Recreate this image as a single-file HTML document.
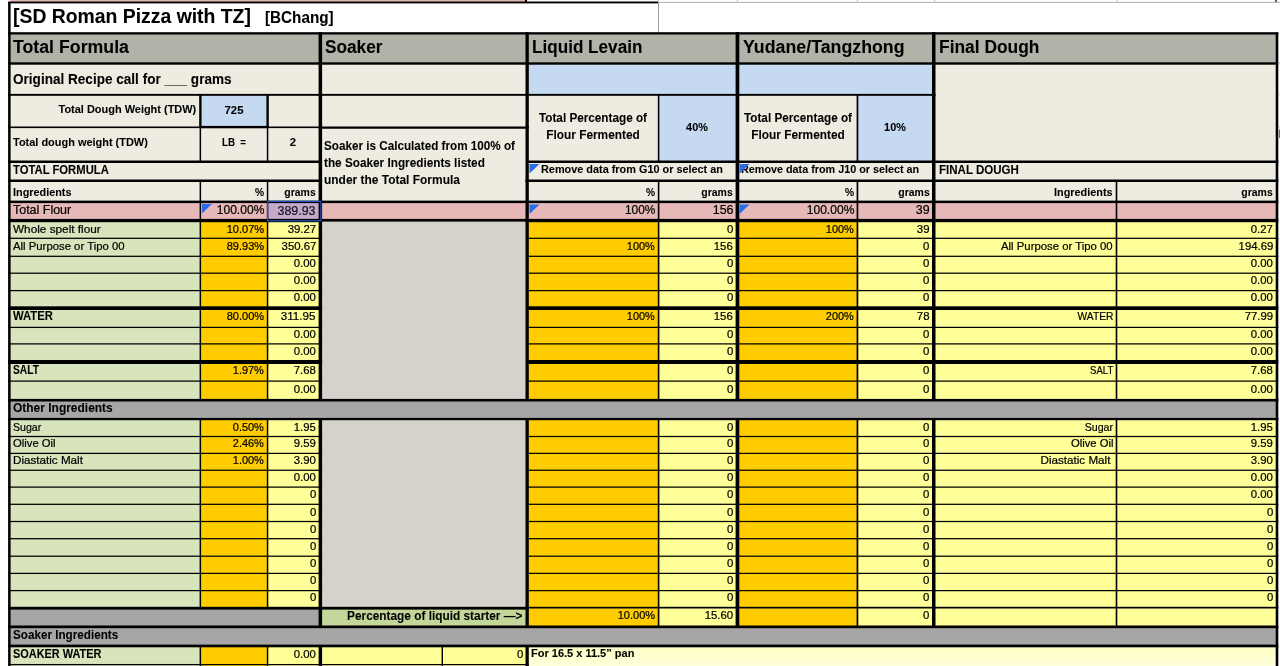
<!DOCTYPE html>
<html lang="en"><head><meta charset="utf-8"><title>SD Roman Pizza with TZ</title><style>
html,body{margin:0;padding:0;background:#fff;}
body{width:1280px;height:666px;overflow:hidden;position:relative;font-family:"Liberation Sans",sans-serif;color:#000;}
.r{position:absolute;display:block;}
.tx{position:absolute;left:0;top:0;width:1280px;height:666px;will-change:transform;}
.t{position:absolute;white-space:pre;line-height:1;display:block;-webkit-text-stroke:0.22px #000;}
</style></head>
<body>
<svg class="r" style="left:0;top:0" width="1280" height="666" viewBox="0 0 1280 666"><defs><linearGradient id="lg" x1="0" y1="0" x2="0" y2="1"><stop offset="0" stop-color="#FFFFC6"/><stop offset="1" stop-color="#FFFFDA"/></linearGradient></defs>
<rect x="10.00" y="0.00" width="516.00" height="3.00" fill="#E6B8B7"/>
<rect x="10.00" y="3.00" width="648.00" height="30.00" fill="#fff"/>
<rect x="10.00" y="33.35" width="1267.00" height="30.15" fill="#B2B2A8"/>
<rect x="10.00" y="63.50" width="1267.00" height="138.35" fill="#EEECE1"/>
<rect x="200.35" y="94.85" width="67.20" height="32.45" fill="#C5D9F1"/>
<rect x="527.15" y="63.50" width="406.60" height="31.35" fill="#C5D9F1"/>
<rect x="658.60" y="94.85" width="78.85" height="66.90" fill="#C5D9F1"/>
<rect x="857.45" y="94.85" width="76.30" height="66.90" fill="#C5D9F1"/>
<rect x="10.00" y="201.85" width="1267.00" height="18.70" fill="#E6B8B7"/>
<rect x="10.00" y="220.55" width="190.35" height="179.65" fill="#D8E4BC"/>
<rect x="200.35" y="220.55" width="67.20" height="179.65" fill="#FFCC00"/>
<rect x="267.55" y="220.55" width="52.80" height="179.65" fill="#FFFF99"/>
<rect x="320.35" y="220.55" width="206.80" height="179.65" fill="#D4D2CA"/>
<rect x="527.15" y="220.55" width="131.45" height="179.65" fill="#FFCC00"/>
<rect x="658.60" y="220.55" width="78.85" height="179.65" fill="#FFFF99"/>
<rect x="737.45" y="220.55" width="120.00" height="179.65" fill="#FFCC00"/>
<rect x="857.45" y="220.55" width="76.30" height="179.65" fill="#FFFF99"/>
<rect x="933.75" y="220.55" width="343.25" height="179.65" fill="#FFFF99"/>
<rect x="10.00" y="400.20" width="1267.00" height="18.85" fill="#A6A6A6"/>
<rect x="10.00" y="419.05" width="190.35" height="189.15" fill="#D8E4BC"/>
<rect x="200.35" y="419.05" width="67.20" height="189.15" fill="#FFCC00"/>
<rect x="267.55" y="419.05" width="52.80" height="189.15" fill="#FFFF99"/>
<rect x="320.35" y="419.05" width="206.80" height="189.15" fill="#D4D2CA"/>
<rect x="527.15" y="419.05" width="131.45" height="189.15" fill="#FFCC00"/>
<rect x="658.60" y="419.05" width="78.85" height="189.15" fill="#FFFF99"/>
<rect x="737.45" y="419.05" width="120.00" height="189.15" fill="#FFCC00"/>
<rect x="857.45" y="419.05" width="76.30" height="189.15" fill="#FFFF99"/>
<rect x="933.75" y="419.05" width="343.25" height="189.15" fill="#FFFF99"/>
<rect x="10.00" y="608.20" width="310.35" height="18.65" fill="#A6A6A6"/>
<rect x="320.35" y="608.20" width="206.80" height="18.65" fill="#C4D79B"/>
<rect x="527.15" y="608.20" width="131.45" height="18.65" fill="#FFCC00"/>
<rect x="658.60" y="608.20" width="78.85" height="18.65" fill="#FFFF99"/>
<rect x="737.45" y="608.20" width="120.00" height="18.65" fill="#FFCC00"/>
<rect x="857.45" y="608.20" width="76.30" height="18.65" fill="#FFFF99"/>
<rect x="933.75" y="608.20" width="343.25" height="18.65" fill="#FFFF99"/>
<rect x="10.00" y="626.85" width="1267.00" height="19.10" fill="#A6A6A6"/>
<rect x="10.00" y="645.95" width="190.35" height="20.05" fill="#D8E4BC"/>
<rect x="200.35" y="645.95" width="67.20" height="20.05" fill="#FFCC00"/>
<rect x="267.55" y="645.95" width="52.80" height="20.05" fill="#FFFF99"/>
<rect x="320.35" y="645.95" width="206.80" height="20.05" fill="#FFFF99"/>
<rect x="527.15" y="645.95" width="749.85" height="20.05" fill="url(#lg)"/>
<rect x="267.00" y="201.00" width="54.50" height="20.00" fill="#C4AAC8"/>
<rect x="8.10" y="1.50" width="650.40" height="1.90" fill="#000"/>
<rect x="658.50" y="1.90" width="621.50" height="1.00" fill="#B0B0B0"/>
<rect x="658.00" y="0.00" width="1.00" height="2.50" fill="#C8C8C8"/>
<rect x="737.00" y="0.00" width="1.00" height="2.50" fill="#C8C8C8"/>
<rect x="857.00" y="0.00" width="1.00" height="2.50" fill="#C8C8C8"/>
<rect x="934.00" y="0.00" width="1.00" height="2.50" fill="#C8C8C8"/>
<rect x="1116.50" y="0.00" width="1.00" height="2.50" fill="#C8C8C8"/>
<rect x="1276.50" y="0.00" width="1.00" height="2.50" fill="#C8C8C8"/>
<rect x="658.00" y="3.00" width="1.00" height="29.50" fill="#9A9A9A"/>
<rect x="525.00" y="0.00" width="2.00" height="3.00" fill="#000"/>
<rect x="8.10" y="32.20" width="1270.20" height="2.30" fill="#000"/>
<rect x="8.10" y="62.30" width="1270.20" height="2.40" fill="#000"/>
<rect x="8.10" y="200.60" width="1270.20" height="2.50" fill="#000"/>
<rect x="8.10" y="398.90" width="1270.20" height="2.60" fill="#000"/>
<rect x="8.10" y="417.90" width="1270.20" height="2.30" fill="#000"/>
<rect x="8.10" y="625.50" width="1270.20" height="2.70" fill="#000"/>
<rect x="8.10" y="644.60" width="1270.20" height="2.70" fill="#000"/>
<rect x="8.10" y="218.90" width="314.00" height="3.30" fill="#000"/>
<rect x="525.50" y="218.90" width="752.80" height="3.30" fill="#000"/>
<rect x="318.60" y="218.90" width="210.20" height="2.70" fill="#000"/>
<rect x="8.10" y="160.50" width="314.00" height="2.50" fill="#000"/>
<rect x="526.10" y="160.50" width="752.20" height="2.50" fill="#000"/>
<rect x="8.10" y="306.30" width="314.00" height="3.70" fill="#000"/>
<rect x="526.10" y="306.30" width="752.20" height="3.70" fill="#000"/>
<rect x="8.10" y="360.00" width="314.00" height="4.00" fill="#000"/>
<rect x="526.10" y="360.00" width="752.20" height="4.00" fill="#000"/>
<rect x="8.10" y="93.90" width="314.00" height="1.90" fill="#000"/>
<rect x="318.60" y="93.90" width="616.90" height="1.90" fill="#000"/>
<rect x="8.10" y="126.50" width="314.00" height="1.60" fill="#000"/>
<rect x="318.60" y="126.50" width="210.20" height="2.25" fill="#000"/>
<rect x="8.10" y="179.50" width="314.00" height="2.50" fill="#000"/>
<rect x="525.50" y="179.50" width="752.80" height="2.50" fill="#000"/>
<rect x="8.10" y="237.68" width="314.00" height="1.25" fill="#000"/>
<rect x="526.10" y="237.68" width="752.20" height="1.25" fill="#000"/>
<rect x="8.10" y="255.68" width="314.00" height="1.25" fill="#000"/>
<rect x="526.10" y="255.68" width="752.20" height="1.25" fill="#000"/>
<rect x="8.10" y="272.57" width="314.00" height="1.25" fill="#000"/>
<rect x="526.10" y="272.57" width="752.20" height="1.25" fill="#000"/>
<rect x="8.10" y="289.98" width="314.00" height="1.25" fill="#000"/>
<rect x="526.10" y="289.98" width="752.20" height="1.25" fill="#000"/>
<rect x="8.10" y="326.77" width="314.00" height="1.25" fill="#000"/>
<rect x="526.10" y="326.77" width="752.20" height="1.25" fill="#000"/>
<rect x="8.10" y="343.27" width="314.00" height="1.25" fill="#000"/>
<rect x="526.10" y="343.27" width="752.20" height="1.25" fill="#000"/>
<rect x="8.10" y="380.48" width="314.00" height="1.25" fill="#000"/>
<rect x="526.10" y="380.48" width="752.20" height="1.25" fill="#000"/>
<rect x="8.10" y="435.88" width="314.00" height="1.25" fill="#000"/>
<rect x="526.10" y="435.88" width="752.20" height="1.25" fill="#000"/>
<rect x="8.10" y="452.77" width="314.00" height="1.25" fill="#000"/>
<rect x="526.10" y="452.77" width="752.20" height="1.25" fill="#000"/>
<rect x="8.10" y="469.62" width="314.00" height="1.25" fill="#000"/>
<rect x="526.10" y="469.62" width="752.20" height="1.25" fill="#000"/>
<rect x="8.10" y="486.48" width="314.00" height="1.25" fill="#000"/>
<rect x="526.10" y="486.48" width="752.20" height="1.25" fill="#000"/>
<rect x="8.10" y="503.68" width="314.00" height="1.25" fill="#000"/>
<rect x="526.10" y="503.68" width="752.20" height="1.25" fill="#000"/>
<rect x="8.10" y="520.88" width="314.00" height="1.25" fill="#000"/>
<rect x="526.10" y="520.88" width="752.20" height="1.25" fill="#000"/>
<rect x="8.10" y="538.08" width="314.00" height="1.25" fill="#000"/>
<rect x="526.10" y="538.08" width="752.20" height="1.25" fill="#000"/>
<rect x="8.10" y="555.58" width="314.00" height="1.25" fill="#000"/>
<rect x="526.10" y="555.58" width="752.20" height="1.25" fill="#000"/>
<rect x="8.10" y="572.77" width="314.00" height="1.25" fill="#000"/>
<rect x="526.10" y="572.77" width="752.20" height="1.25" fill="#000"/>
<rect x="8.10" y="589.98" width="314.00" height="1.25" fill="#000"/>
<rect x="526.10" y="589.98" width="752.20" height="1.25" fill="#000"/>
<rect x="8.10" y="606.80" width="520.70" height="2.80" fill="#000"/>
<rect x="525.50" y="606.80" width="752.80" height="1.70" fill="#000"/>
<rect x="8.10" y="663.98" width="520.70" height="1.25" fill="#000"/>
<rect x="8.10" y="2.00" width="2.50" height="664.00" fill="#000"/>
<rect x="1275.70" y="32.50" width="2.60" height="633.50" fill="#000"/>
<rect x="318.60" y="32.00" width="3.50" height="368.00" fill="#000"/>
<rect x="318.60" y="419.00" width="3.50" height="207.50" fill="#000"/>
<rect x="525.50" y="32.00" width="3.30" height="368.00" fill="#000"/>
<rect x="525.50" y="419.00" width="3.30" height="207.50" fill="#000"/>
<rect x="735.60" y="32.00" width="3.70" height="368.00" fill="#000"/>
<rect x="735.60" y="419.00" width="3.70" height="207.50" fill="#000"/>
<rect x="932.00" y="32.00" width="3.50" height="368.00" fill="#000"/>
<rect x="932.00" y="419.00" width="3.50" height="207.50" fill="#000"/>
<rect x="318.60" y="646.00" width="3.50" height="20.00" fill="#000"/>
<rect x="525.50" y="646.00" width="3.30" height="20.00" fill="#000"/>
<rect x="199.60" y="94.85" width="1.50" height="66.90" fill="#000"/>
<rect x="266.80" y="94.85" width="1.50" height="66.90" fill="#000"/>
<rect x="199.60" y="180.75" width="1.50" height="219.45" fill="#000"/>
<rect x="266.80" y="180.75" width="1.50" height="219.45" fill="#000"/>
<rect x="199.60" y="419.05" width="1.50" height="189.15" fill="#000"/>
<rect x="266.80" y="419.05" width="1.50" height="189.15" fill="#000"/>
<rect x="199.60" y="645.95" width="1.50" height="20.05" fill="#000"/>
<rect x="266.80" y="645.95" width="1.50" height="20.05" fill="#000"/>
<rect x="441.60" y="645.95" width="1.40" height="20.05" fill="#000"/>
<rect x="657.80" y="94.85" width="1.60" height="66.90" fill="#000"/>
<rect x="657.80" y="180.75" width="1.60" height="219.45" fill="#000"/>
<rect x="657.80" y="419.05" width="1.60" height="207.80" fill="#000"/>
<rect x="856.60" y="94.85" width="1.70" height="66.90" fill="#000"/>
<rect x="856.60" y="180.75" width="1.70" height="219.45" fill="#000"/>
<rect x="856.60" y="419.05" width="1.70" height="207.80" fill="#000"/>
<rect x="1115.70" y="180.75" width="1.60" height="219.45" fill="#000"/>
<rect x="1115.70" y="419.05" width="1.60" height="207.80" fill="#000"/>
<rect x="199.30" y="94.50" width="2.20" height="33.50" fill="#000"/>
<rect x="266.50" y="94.50" width="2.20" height="33.50" fill="#000"/>
<rect x="199.30" y="125.90" width="69.40" height="2.30" fill="#000"/>
<rect x="1278.30" y="63.00" width="1.70" height="1.00" fill="#C8C8C8"/>
<rect x="1278.30" y="94.50" width="1.70" height="1.00" fill="#C8C8C8"/>
<rect x="1278.30" y="126.90" width="1.70" height="1.00" fill="#C8C8C8"/>
<rect x="1279.00" y="129.50" width="1.00" height="8.50" fill="#3B6FD0"/>
<rect x="1275.30" y="0.00" width="1.30" height="2.00" fill="#222"/>
<rect x="267.6" y="201.4" width="53.3" height="19.4" fill="none" stroke="#2456C8" stroke-width="1.15"/>
</svg>
<div class="tx">
<span class="t" style="top:5.91px;font-size:20.43px;font-weight:700;-webkit-text-stroke-width:0.08px;left:13.00px;transform-origin:0 50%;transform:scaleX(0.9488);">[SD Roman Pizza with TZ]</span>
<span class="t" style="top:9.16px;font-size:16.34px;font-weight:700;-webkit-text-stroke-width:0.08px;left:265.30px;transform-origin:0 50%;transform:scaleX(0.9336);">[BChang]</span>
<span class="t" style="top:37.94px;font-size:18.39px;font-weight:700;-webkit-text-stroke-width:0.08px;left:13.00px;transform-origin:0 50%;transform:scaleX(0.9651);">Total Formula</span>
<span class="t" style="top:37.94px;font-size:18.39px;font-weight:700;-webkit-text-stroke-width:0.08px;left:324.50px;transform-origin:0 50%;transform:scaleX(0.9379);">Soaker</span>
<span class="t" style="top:37.94px;font-size:18.39px;font-weight:700;-webkit-text-stroke-width:0.08px;left:532.00px;transform-origin:0 50%;transform:scaleX(0.9320);">Liquid Levain</span>
<span class="t" style="top:37.94px;font-size:18.39px;font-weight:700;-webkit-text-stroke-width:0.08px;left:742.50px;transform-origin:0 50%;transform:scaleX(0.9671);">Yudane/Tangzhong</span>
<span class="t" style="top:37.94px;font-size:18.39px;font-weight:700;-webkit-text-stroke-width:0.08px;left:938.50px;transform-origin:0 50%;transform:scaleX(0.9467);">Final Dough</span>
<span class="t" style="top:71.89px;font-size:14.30px;font-weight:700;-webkit-text-stroke-width:0.08px;left:13.00px;transform-origin:0 50%;transform:scaleX(0.9485);">Original Recipe call for ___ grams</span>
<span class="t" style="top:104.49px;font-size:11.24px;font-weight:700;-webkit-text-stroke-width:0.08px;right:1084.00px;transform-origin:100% 50%;transform:scaleX(0.9748);">Total Dough Weight (TDW)</span>
<span class="t" style="top:104.99px;font-size:11.24px;font-weight:700;-webkit-text-stroke-width:0.08px;left:234.00px;transform-origin:50% 50%;transform:translateX(-50%) scaleX(1.0126);">725</span>
<span class="t" style="top:137.39px;font-size:11.24px;font-weight:700;-webkit-text-stroke-width:0.08px;left:13.00px;transform-origin:0 50%;transform:scaleX(0.9749);">Total dough weight (TDW)</span>
<span class="t" style="top:137.39px;font-size:11.24px;font-weight:700;-webkit-text-stroke-width:0.08px;left:234.00px;transform-origin:50% 50%;transform:translateX(-50%) scaleX(0.8689);">LB  =</span>
<span class="t" style="top:137.39px;font-size:11.24px;font-weight:700;-webkit-text-stroke-width:0.08px;left:293.25px;transform-origin:50% 50%;transform:translateX(-50%) scaleX(1.0126);">2</span>
<span class="t" style="top:164.02px;font-size:12.26px;font-weight:700;-webkit-text-stroke-width:0.08px;left:13.00px;transform-origin:0 50%;transform:scaleX(0.9204);">TOTAL FORMULA</span>
<span class="t" style="top:164.02px;font-size:12.26px;font-weight:700;-webkit-text-stroke-width:0.08px;left:938.50px;transform-origin:0 50%;transform:scaleX(0.9412);">FINAL DOUGH</span>
<span class="t" style="top:140.02px;font-size:12.26px;font-weight:700;-webkit-text-stroke-width:0.08px;left:323.80px;transform-origin:0 50%;transform:scaleX(0.9543);">Soaker is Calculated from 100% of</span>
<span class="t" style="top:157.02px;font-size:12.26px;font-weight:700;-webkit-text-stroke-width:0.08px;left:323.80px;transform-origin:0 50%;transform:scaleX(0.9605);">the Soaker Ingredients listed</span>
<span class="t" style="top:174.02px;font-size:12.26px;font-weight:700;-webkit-text-stroke-width:0.08px;left:323.80px;transform-origin:0 50%;transform:scaleX(0.9758);">under the Total Formula</span>
<span class="t" style="top:112.12px;font-size:12.26px;font-weight:700;-webkit-text-stroke-width:0.08px;left:593.00px;transform-origin:50% 50%;transform:translateX(-50%) scaleX(0.9579);">Total Percentage of</span>
<span class="t" style="top:129.12px;font-size:12.26px;font-weight:700;-webkit-text-stroke-width:0.08px;left:593.00px;transform-origin:50% 50%;transform:translateX(-50%) scaleX(0.9693);">Flour Fermented</span>
<span class="t" style="top:112.12px;font-size:12.26px;font-weight:700;-webkit-text-stroke-width:0.08px;left:797.75px;transform-origin:50% 50%;transform:translateX(-50%) scaleX(0.9579);">Total Percentage of</span>
<span class="t" style="top:129.12px;font-size:12.26px;font-weight:700;-webkit-text-stroke-width:0.08px;left:797.75px;transform-origin:50% 50%;transform:translateX(-50%) scaleX(0.9693);">Flour Fermented</span>
<span class="t" style="top:122.29px;font-size:11.24px;font-weight:700;-webkit-text-stroke-width:0.08px;left:697.25px;transform-origin:50% 50%;transform:translateX(-50%) scaleX(0.9675);">40%</span>
<span class="t" style="top:122.29px;font-size:11.24px;font-weight:700;-webkit-text-stroke-width:0.08px;left:895.25px;transform-origin:50% 50%;transform:translateX(-50%) scaleX(0.9675);">10%</span>
<span class="t" style="top:163.99px;font-size:11.24px;font-weight:700;-webkit-text-stroke-width:0.08px;left:540.50px;transform-origin:0 50%;transform:scaleX(0.9682);">Remove data from G10 or select an</span>
<div class="r" style="left:739px;top:163px;width:193px;height:17px;overflow:hidden">
<span class="t" style="top:0.99px;font-size:11.24px;font-weight:700;-webkit-text-stroke-width:0.08px;left:2.20px;transform-origin:0 50%;transform:scaleX(0.9606);">Remove data from J10 or select an</span>
</div>
<span class="t" style="top:187.09px;font-size:11.24px;font-weight:700;-webkit-text-stroke-width:0.08px;left:13.00px;transform-origin:0 50%;transform:scaleX(0.9656);">Ingredients</span>
<span class="t" style="top:187.09px;font-size:11.24px;font-weight:700;-webkit-text-stroke-width:0.08px;right:1016.00px;transform-origin:100% 50%;transform:scaleX(0.9110);">%</span>
<span class="t" style="top:187.09px;font-size:11.24px;font-weight:700;-webkit-text-stroke-width:0.08px;right:964.50px;transform-origin:100% 50%;transform:scaleX(0.9306);">grams</span>
<span class="t" style="top:187.09px;font-size:11.24px;font-weight:700;-webkit-text-stroke-width:0.08px;right:625.00px;transform-origin:100% 50%;transform:scaleX(0.9110);">%</span>
<span class="t" style="top:187.09px;font-size:11.24px;font-weight:700;-webkit-text-stroke-width:0.08px;right:547.00px;transform-origin:100% 50%;transform:scaleX(0.9306);">grams</span>
<span class="t" style="top:187.09px;font-size:11.24px;font-weight:700;-webkit-text-stroke-width:0.08px;right:426.00px;transform-origin:100% 50%;transform:scaleX(0.9110);">%</span>
<span class="t" style="top:187.09px;font-size:11.24px;font-weight:700;-webkit-text-stroke-width:0.08px;right:350.50px;transform-origin:100% 50%;transform:scaleX(0.9306);">grams</span>
<span class="t" style="top:187.09px;font-size:11.24px;font-weight:700;-webkit-text-stroke-width:0.08px;right:167.00px;transform-origin:100% 50%;transform:scaleX(0.9656);">Ingredients</span>
<span class="t" style="top:187.09px;font-size:11.24px;font-weight:700;-webkit-text-stroke-width:0.08px;right:7.00px;transform-origin:100% 50%;transform:scaleX(0.9306);">grams</span>
<span class="t" style="top:203.62px;font-size:12.26px;left:13.00px;transform-origin:0 50%;transform:scaleX(1.0171);">Total Flour</span>
<span class="t" style="top:203.62px;font-size:12.26px;right:1016.00px;transform-origin:100% 50%;transform:scaleX(0.9855);">100.00%</span>
<span class="t" style="top:205.12px;font-size:12.26px;color:#1A1A3A;right:964.40px;transform-origin:100% 50%;transform:scaleX(1.0123);">389.93</span>
<span class="t" style="top:203.62px;font-size:12.26px;right:625.00px;transform-origin:100% 50%;transform:scaleX(0.9711);">100%</span>
<span class="t" style="top:203.62px;font-size:12.26px;right:547.00px;transform-origin:100% 50%;transform:scaleX(1.0126);">156</span>
<span class="t" style="top:203.62px;font-size:12.26px;right:426.00px;transform-origin:100% 50%;transform:scaleX(0.9855);">100.00%</span>
<span class="t" style="top:203.62px;font-size:12.26px;right:350.50px;transform-origin:100% 50%;transform:scaleX(1.0126);">39</span>
<span class="t" style="top:223.99px;font-size:11.24px;left:13.00px;transform-origin:0 50%;transform:scaleX(1.0489);">Whole spelt flour</span>
<span class="t" style="top:223.99px;font-size:11.24px;right:1016.00px;transform-origin:100% 50%;transform:scaleX(0.9811);">10.07%</span>
<span class="t" style="top:223.99px;font-size:11.24px;right:964.00px;transform-origin:100% 50%;transform:scaleX(1.0123);">39.27</span>
<span class="t" style="top:223.99px;font-size:11.24px;right:547.00px;transform-origin:100% 50%;transform:scaleX(1.0126);">0</span>
<span class="t" style="top:223.99px;font-size:11.24px;right:426.00px;transform-origin:100% 50%;transform:scaleX(0.9711);">100%</span>
<span class="t" style="top:223.99px;font-size:11.24px;right:350.50px;transform-origin:100% 50%;transform:scaleX(1.0126);">39</span>
<span class="t" style="top:223.99px;font-size:11.24px;right:7.00px;transform-origin:100% 50%;transform:scaleX(1.0122);">0.27</span>
<span class="t" style="top:240.89px;font-size:11.24px;left:13.00px;transform-origin:0 50%;transform:scaleX(1.0088);">All Purpose or Tipo 00</span>
<span class="t" style="top:240.89px;font-size:11.24px;right:1016.00px;transform-origin:100% 50%;transform:scaleX(0.9811);">89.93%</span>
<span class="t" style="top:240.89px;font-size:11.24px;right:964.00px;transform-origin:100% 50%;transform:scaleX(1.0123);">350.67</span>
<span class="t" style="top:240.89px;font-size:11.24px;right:625.00px;transform-origin:100% 50%;transform:scaleX(0.9711);">100%</span>
<span class="t" style="top:240.89px;font-size:11.24px;right:547.00px;transform-origin:100% 50%;transform:scaleX(1.0126);">156</span>
<span class="t" style="top:240.89px;font-size:11.24px;right:350.50px;transform-origin:100% 50%;transform:scaleX(1.0126);">0</span>
<span class="t" style="top:240.89px;font-size:11.24px;right:167.00px;transform-origin:100% 50%;transform:scaleX(1.0088);">All Purpose or Tipo 00</span>
<span class="t" style="top:240.89px;font-size:11.24px;right:7.00px;transform-origin:100% 50%;transform:scaleX(1.0123);">194.69</span>
<span class="t" style="top:258.09px;font-size:11.24px;right:964.00px;transform-origin:100% 50%;transform:scaleX(1.0122);">0.00</span>
<span class="t" style="top:258.09px;font-size:11.24px;right:547.00px;transform-origin:100% 50%;transform:scaleX(1.0126);">0</span>
<span class="t" style="top:258.09px;font-size:11.24px;right:350.50px;transform-origin:100% 50%;transform:scaleX(1.0126);">0</span>
<span class="t" style="top:258.09px;font-size:11.24px;right:7.00px;transform-origin:100% 50%;transform:scaleX(1.0122);">0.00</span>
<span class="t" style="top:274.89px;font-size:11.24px;right:964.00px;transform-origin:100% 50%;transform:scaleX(1.0122);">0.00</span>
<span class="t" style="top:274.89px;font-size:11.24px;right:547.00px;transform-origin:100% 50%;transform:scaleX(1.0126);">0</span>
<span class="t" style="top:274.89px;font-size:11.24px;right:350.50px;transform-origin:100% 50%;transform:scaleX(1.0126);">0</span>
<span class="t" style="top:274.89px;font-size:11.24px;right:7.00px;transform-origin:100% 50%;transform:scaleX(1.0122);">0.00</span>
<span class="t" style="top:292.09px;font-size:11.24px;right:964.00px;transform-origin:100% 50%;transform:scaleX(1.0122);">0.00</span>
<span class="t" style="top:292.09px;font-size:11.24px;right:547.00px;transform-origin:100% 50%;transform:scaleX(1.0126);">0</span>
<span class="t" style="top:292.09px;font-size:11.24px;right:350.50px;transform-origin:100% 50%;transform:scaleX(1.0126);">0</span>
<span class="t" style="top:292.09px;font-size:11.24px;right:7.00px;transform-origin:100% 50%;transform:scaleX(1.0122);">0.00</span>
<span class="t" style="top:310.32px;font-size:12.26px;font-weight:700;-webkit-text-stroke-width:0.08px;left:13.00px;transform-origin:0 50%;transform:scaleX(0.9215);">WATER</span>
<span class="t" style="top:311.19px;font-size:11.24px;right:1016.00px;transform-origin:100% 50%;transform:scaleX(0.9811);">80.00%</span>
<span class="t" style="top:311.19px;font-size:11.24px;right:964.00px;transform-origin:100% 50%;transform:scaleX(1.0375);">311.95</span>
<span class="t" style="top:311.19px;font-size:11.24px;right:625.00px;transform-origin:100% 50%;transform:scaleX(0.9711);">100%</span>
<span class="t" style="top:311.19px;font-size:11.24px;right:547.00px;transform-origin:100% 50%;transform:scaleX(1.0126);">156</span>
<span class="t" style="top:311.19px;font-size:11.24px;right:426.00px;transform-origin:100% 50%;transform:scaleX(0.9711);">200%</span>
<span class="t" style="top:311.19px;font-size:11.24px;right:350.50px;transform-origin:100% 50%;transform:scaleX(1.0126);">78</span>
<span class="t" style="top:311.19px;font-size:11.24px;right:167.00px;transform-origin:100% 50%;transform:scaleX(0.9091);">WATER</span>
<span class="t" style="top:311.19px;font-size:11.24px;right:7.00px;transform-origin:100% 50%;transform:scaleX(1.0123);">77.99</span>
<span class="t" style="top:328.99px;font-size:11.24px;right:964.00px;transform-origin:100% 50%;transform:scaleX(1.0122);">0.00</span>
<span class="t" style="top:328.99px;font-size:11.24px;right:547.00px;transform-origin:100% 50%;transform:scaleX(1.0126);">0</span>
<span class="t" style="top:328.99px;font-size:11.24px;right:350.50px;transform-origin:100% 50%;transform:scaleX(1.0126);">0</span>
<span class="t" style="top:328.99px;font-size:11.24px;right:7.00px;transform-origin:100% 50%;transform:scaleX(1.0122);">0.00</span>
<span class="t" style="top:345.89px;font-size:11.24px;right:964.00px;transform-origin:100% 50%;transform:scaleX(1.0122);">0.00</span>
<span class="t" style="top:345.89px;font-size:11.24px;right:547.00px;transform-origin:100% 50%;transform:scaleX(1.0126);">0</span>
<span class="t" style="top:345.89px;font-size:11.24px;right:350.50px;transform-origin:100% 50%;transform:scaleX(1.0126);">0</span>
<span class="t" style="top:345.89px;font-size:11.24px;right:7.00px;transform-origin:100% 50%;transform:scaleX(1.0122);">0.00</span>
<span class="t" style="top:364.32px;font-size:12.26px;font-weight:700;-webkit-text-stroke-width:0.08px;left:13.00px;transform-origin:0 50%;transform:scaleX(0.8371);">SALT</span>
<span class="t" style="top:365.19px;font-size:11.24px;right:1016.00px;transform-origin:100% 50%;transform:scaleX(0.9749);">1.97%</span>
<span class="t" style="top:365.19px;font-size:11.24px;right:964.00px;transform-origin:100% 50%;transform:scaleX(1.0122);">7.68</span>
<span class="t" style="top:365.19px;font-size:11.24px;right:547.00px;transform-origin:100% 50%;transform:scaleX(1.0126);">0</span>
<span class="t" style="top:365.19px;font-size:11.24px;right:350.50px;transform-origin:100% 50%;transform:scaleX(1.0126);">0</span>
<span class="t" style="top:365.19px;font-size:11.24px;right:167.00px;transform-origin:100% 50%;transform:scaleX(0.8540);">SALT</span>
<span class="t" style="top:365.19px;font-size:11.24px;right:7.00px;transform-origin:100% 50%;transform:scaleX(1.0122);">7.68</span>
<span class="t" style="top:383.99px;font-size:11.24px;right:964.00px;transform-origin:100% 50%;transform:scaleX(1.0122);">0.00</span>
<span class="t" style="top:383.99px;font-size:11.24px;right:547.00px;transform-origin:100% 50%;transform:scaleX(1.0126);">0</span>
<span class="t" style="top:383.99px;font-size:11.24px;right:350.50px;transform-origin:100% 50%;transform:scaleX(1.0126);">0</span>
<span class="t" style="top:383.99px;font-size:11.24px;right:7.00px;transform-origin:100% 50%;transform:scaleX(1.0122);">0.00</span>
<span class="t" style="top:421.59px;font-size:11.24px;left:13.00px;transform-origin:0 50%;transform:scaleX(0.9429);">Sugar</span>
<span class="t" style="top:421.59px;font-size:11.24px;right:1016.00px;transform-origin:100% 50%;transform:scaleX(0.9749);">0.50%</span>
<span class="t" style="top:421.59px;font-size:11.24px;right:964.00px;transform-origin:100% 50%;transform:scaleX(1.0122);">1.95</span>
<span class="t" style="top:421.59px;font-size:11.24px;right:547.00px;transform-origin:100% 50%;transform:scaleX(1.0126);">0</span>
<span class="t" style="top:421.59px;font-size:11.24px;right:350.50px;transform-origin:100% 50%;transform:scaleX(1.0126);">0</span>
<span class="t" style="top:421.59px;font-size:11.24px;right:167.00px;transform-origin:100% 50%;transform:scaleX(0.9429);">Sugar</span>
<span class="t" style="top:421.59px;font-size:11.24px;right:7.00px;transform-origin:100% 50%;transform:scaleX(1.0122);">1.95</span>
<span class="t" style="top:438.39px;font-size:11.24px;left:13.00px;transform-origin:0 50%;transform:scaleX(1.0022);">Olive Oil</span>
<span class="t" style="top:438.39px;font-size:11.24px;right:1016.00px;transform-origin:100% 50%;transform:scaleX(0.9749);">2.46%</span>
<span class="t" style="top:438.39px;font-size:11.24px;right:964.00px;transform-origin:100% 50%;transform:scaleX(1.0122);">9.59</span>
<span class="t" style="top:438.39px;font-size:11.24px;right:547.00px;transform-origin:100% 50%;transform:scaleX(1.0126);">0</span>
<span class="t" style="top:438.39px;font-size:11.24px;right:350.50px;transform-origin:100% 50%;transform:scaleX(1.0126);">0</span>
<span class="t" style="top:438.39px;font-size:11.24px;right:167.00px;transform-origin:100% 50%;transform:scaleX(1.0022);">Olive Oil</span>
<span class="t" style="top:438.39px;font-size:11.24px;right:7.00px;transform-origin:100% 50%;transform:scaleX(1.0122);">9.59</span>
<span class="t" style="top:455.29px;font-size:11.24px;left:13.00px;transform-origin:0 50%;transform:scaleX(1.0369);">Diastatic Malt</span>
<span class="t" style="top:455.29px;font-size:11.24px;right:1016.00px;transform-origin:100% 50%;transform:scaleX(0.9749);">1.00%</span>
<span class="t" style="top:455.29px;font-size:11.24px;right:964.00px;transform-origin:100% 50%;transform:scaleX(1.0122);">3.90</span>
<span class="t" style="top:455.29px;font-size:11.24px;right:547.00px;transform-origin:100% 50%;transform:scaleX(1.0126);">0</span>
<span class="t" style="top:455.29px;font-size:11.24px;right:350.50px;transform-origin:100% 50%;transform:scaleX(1.0126);">0</span>
<span class="t" style="top:455.29px;font-size:11.24px;right:169.50px;transform-origin:100% 50%;transform:scaleX(1.0369);">Diastatic Malt</span>
<span class="t" style="top:455.29px;font-size:11.24px;right:7.00px;transform-origin:100% 50%;transform:scaleX(1.0122);">3.90</span>
<span class="t" style="top:472.49px;font-size:11.24px;right:964.00px;transform-origin:100% 50%;transform:scaleX(1.0122);">0.00</span>
<span class="t" style="top:472.49px;font-size:11.24px;right:547.00px;transform-origin:100% 50%;transform:scaleX(1.0126);">0</span>
<span class="t" style="top:472.49px;font-size:11.24px;right:350.50px;transform-origin:100% 50%;transform:scaleX(1.0126);">0</span>
<span class="t" style="top:472.49px;font-size:11.24px;right:7.00px;transform-origin:100% 50%;transform:scaleX(1.0122);">0.00</span>
<span class="t" style="top:489.39px;font-size:11.24px;right:964.00px;transform-origin:100% 50%;transform:scaleX(1.0126);">0</span>
<span class="t" style="top:489.39px;font-size:11.24px;right:547.00px;transform-origin:100% 50%;transform:scaleX(1.0126);">0</span>
<span class="t" style="top:489.39px;font-size:11.24px;right:350.50px;transform-origin:100% 50%;transform:scaleX(1.0126);">0</span>
<span class="t" style="top:489.39px;font-size:11.24px;right:7.00px;transform-origin:100% 50%;transform:scaleX(1.0122);">0.00</span>
<span class="t" style="top:506.59px;font-size:11.24px;right:964.00px;transform-origin:100% 50%;transform:scaleX(1.0126);">0</span>
<span class="t" style="top:506.59px;font-size:11.24px;right:547.00px;transform-origin:100% 50%;transform:scaleX(1.0126);">0</span>
<span class="t" style="top:506.59px;font-size:11.24px;right:350.50px;transform-origin:100% 50%;transform:scaleX(1.0126);">0</span>
<span class="t" style="top:506.59px;font-size:11.24px;right:7.00px;transform-origin:100% 50%;transform:scaleX(1.0126);">0</span>
<span class="t" style="top:523.99px;font-size:11.24px;right:964.00px;transform-origin:100% 50%;transform:scaleX(1.0126);">0</span>
<span class="t" style="top:523.99px;font-size:11.24px;right:547.00px;transform-origin:100% 50%;transform:scaleX(1.0126);">0</span>
<span class="t" style="top:523.99px;font-size:11.24px;right:350.50px;transform-origin:100% 50%;transform:scaleX(1.0126);">0</span>
<span class="t" style="top:523.99px;font-size:11.24px;right:7.00px;transform-origin:100% 50%;transform:scaleX(1.0126);">0</span>
<span class="t" style="top:541.19px;font-size:11.24px;right:964.00px;transform-origin:100% 50%;transform:scaleX(1.0126);">0</span>
<span class="t" style="top:541.19px;font-size:11.24px;right:547.00px;transform-origin:100% 50%;transform:scaleX(1.0126);">0</span>
<span class="t" style="top:541.19px;font-size:11.24px;right:350.50px;transform-origin:100% 50%;transform:scaleX(1.0126);">0</span>
<span class="t" style="top:541.19px;font-size:11.24px;right:7.00px;transform-origin:100% 50%;transform:scaleX(1.0126);">0</span>
<span class="t" style="top:558.09px;font-size:11.24px;right:964.00px;transform-origin:100% 50%;transform:scaleX(1.0126);">0</span>
<span class="t" style="top:558.09px;font-size:11.24px;right:547.00px;transform-origin:100% 50%;transform:scaleX(1.0126);">0</span>
<span class="t" style="top:558.09px;font-size:11.24px;right:350.50px;transform-origin:100% 50%;transform:scaleX(1.0126);">0</span>
<span class="t" style="top:558.09px;font-size:11.24px;right:7.00px;transform-origin:100% 50%;transform:scaleX(1.0126);">0</span>
<span class="t" style="top:575.29px;font-size:11.24px;right:964.00px;transform-origin:100% 50%;transform:scaleX(1.0126);">0</span>
<span class="t" style="top:575.29px;font-size:11.24px;right:547.00px;transform-origin:100% 50%;transform:scaleX(1.0126);">0</span>
<span class="t" style="top:575.29px;font-size:11.24px;right:350.50px;transform-origin:100% 50%;transform:scaleX(1.0126);">0</span>
<span class="t" style="top:575.29px;font-size:11.24px;right:7.00px;transform-origin:100% 50%;transform:scaleX(1.0126);">0</span>
<span class="t" style="top:592.49px;font-size:11.24px;right:964.00px;transform-origin:100% 50%;transform:scaleX(1.0126);">0</span>
<span class="t" style="top:592.49px;font-size:11.24px;right:547.00px;transform-origin:100% 50%;transform:scaleX(1.0126);">0</span>
<span class="t" style="top:592.49px;font-size:11.24px;right:350.50px;transform-origin:100% 50%;transform:scaleX(1.0126);">0</span>
<span class="t" style="top:592.49px;font-size:11.24px;right:7.00px;transform-origin:100% 50%;transform:scaleX(1.0126);">0</span>
<span class="t" style="top:401.62px;font-size:12.26px;font-weight:700;-webkit-text-stroke-width:0.08px;left:13.00px;transform-origin:0 50%;transform:scaleX(0.9770);">Other Ingredients</span>
<span class="t" style="top:609.92px;font-size:12.26px;font-weight:700;-webkit-text-stroke-width:0.08px;right:757.50px;transform-origin:100% 50%;transform:scaleX(0.9666);">Percentage of liquid starter —&gt;</span>
<span class="t" style="top:610.49px;font-size:11.24px;right:625.00px;transform-origin:100% 50%;transform:scaleX(0.9811);">10.00%</span>
<span class="t" style="top:610.49px;font-size:11.24px;right:547.00px;transform-origin:100% 50%;transform:scaleX(1.0123);">15.60</span>
<span class="t" style="top:610.49px;font-size:11.24px;right:350.50px;transform-origin:100% 50%;transform:scaleX(1.0126);">0</span>
<span class="t" style="top:628.62px;font-size:12.26px;font-weight:700;-webkit-text-stroke-width:0.08px;left:13.00px;transform-origin:0 50%;transform:scaleX(0.9534);">Soaker Ingredients</span>
<span class="t" style="top:647.92px;font-size:12.26px;font-weight:700;-webkit-text-stroke-width:0.08px;left:13.00px;transform-origin:0 50%;transform:scaleX(0.8921);">SOAKER WATER</span>
<span class="t" style="top:648.79px;font-size:11.24px;right:964.00px;transform-origin:100% 50%;transform:scaleX(1.0122);">0.00</span>
<span class="t" style="top:648.79px;font-size:11.24px;right:757.00px;transform-origin:100% 50%;transform:scaleX(1.0126);">0</span>
<span class="t" style="top:647.79px;font-size:11.24px;font-weight:700;-webkit-text-stroke-width:0.08px;left:531.30px;transform-origin:0 50%;transform:scaleX(0.9795);">For 16.5 x 11.5” pan</span>
</div>
<svg class="r" style="left:0;top:0" width="1280" height="666" viewBox="0 0 1280 666"><path d="M202 204h10.0l-10.0 9.5z" fill="#2B6BEA"/>
<path d="M529.5 164h10.0l-10.0 9.5z" fill="#2B6BEA"/>
<path d="M529.5 204.5h10.0l-10.0 9.5z" fill="#2B6BEA"/>
<path d="M739.5 164h10.0l-10.0 9.5z" fill="#2B6BEA"/>
<path d="M739.5 204.5h10.0l-10.0 9.5z" fill="#2B6BEA"/></svg>
</body></html>
